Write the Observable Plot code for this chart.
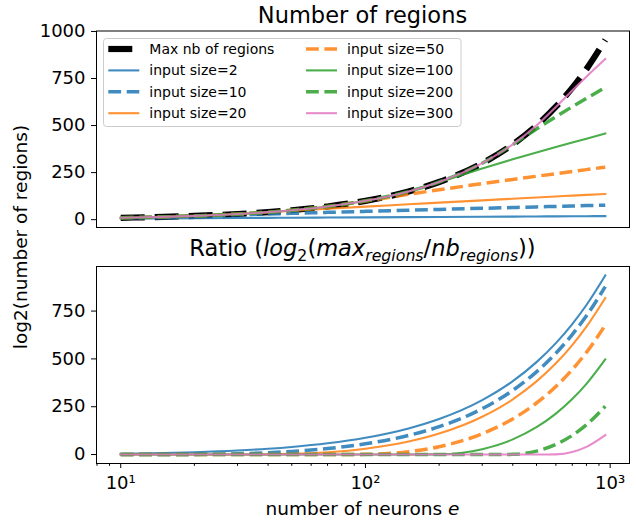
<!DOCTYPE html>
<html><head><meta charset="utf-8">
<script src="https://cdn.jsdelivr.net/npm/d3@7"></script>
<script src="https://cdn.jsdelivr.net/npm/@observablehq/plot@0.6"></script>
<style>
body{margin:0;background:#fff;}
#wrap{position:relative;width:637px;height:520px;font-family:"DejaVu Sans",sans-serif;}
#wrap svg{position:absolute;left:0;}
</style></head><body><div id="wrap"></div>
<script>
// ---- data ----
const neurons = [10, 15, 20, 30, 40, 50, 70, 100, 150, 200, 300, 400, 500, 600, 700, 800, 955];
const seriesLabels = ["Max nb of regions", "input size=2", "input size=10", "input size=20",
                      "input size=50", "input size=100", "input size=200", "input size=300"];
// top panel: log2(number of regions)
const regionsMax = [10, 15, 20, 30, 40, 50, 70, 100, 150, 200, 300, 400, 500, 600, 700, 800, 955];
const regions2   = [5.8, 6.9, 7.7, 8.9, 9.7, 10.3, 11.3, 12.3, 13.5, 14.3, 15.5, 16.3, 16.9, 17.5, 17.9, 18.3, 18.8];
const regions10  = [10, 14.9, 19.2, 25.7, 30.2, 33.6, 38.8, 44.1, 50.2, 54.4, 60.3, 64.5, 67.8, 70.4, 72.7, 74.6, 77.2];
const regions20  = [10, 15, 20, 30, 39.2, 46.7, 57.9, 69.3, 81.8, 90.6, 102.7, 111.2, 117.8, 123.1, 127.6, 131.5, 136.7];
const regions50  = [10, 15, 20, 30, 40, 50, 70, 99.1, 134.8, 158.9, 191.3, 213.6, 230.6, 244.3, 255.9, 265.8, 279.0];
const regions100 = [10, 15, 20, 30, 40, 50, 70, 100, 150, 199.1, 272.1, 320.7, 356.9, 385.8, 409.9, 430.5, 457.6];
const regions200 = [10, 15, 20, 30, 40, 50, 70, 100, 150, 200, 300, 399.1, 482.2, 547.1, 600.0, 644.7, 702.5];
const regions300 = [10, 15, 20, 30, 40, 50, 70, 100, 150, 200, 300, 400, 500, 599.1, 686.6, 759.7, 853.2];
// bottom panel: ratio log2(max / nb)
const ratio2   = [4.2, 8.1, 12.3, 21.1, 30.3, 39.7, 58.7, 87.7, 136.5, 185.7, 284.5, 383.7, 483.1, 582.5, 682.1, 781.7, 936.2];
const ratio10  = [0, 0.1, 0.8, 4.3, 9.8, 16.4, 31.2, 55.9, 99.8, 145.6, 239.7, 335.5, 432.2, 529.6, 627.4, 725.4, 877.9];
const ratio20  = [0, 0, 0, 0, 0.8, 3.3, 12.1, 30.7, 68.2, 109.4, 197.3, 288.8, 382.3, 476.9, 572.4, 668.5, 818.4];
const ratio50  = [0, 0, 0, 0, 0, 0, 0, 0.9, 15.2, 41.1, 108.7, 186.4, 269.4, 355.7, 444.1, 534.2, 676.0];
const ratio100 = [0, 0, 0, 0, 0, 0, 0, 0, 0, 0.9, 27.9, 79.4, 143.1, 214.2, 290.1, 369.5, 497.4];
const ratio200 = [0, 0, 0, 0, 0, 0, 0, 0, 0, 0, 0, 0.9, 17.8, 52.9, 100.0, 155.3, 252.5];
const ratio300 = [0, 0, 0, 0, 0, 0, 0, 0, 0, 0, 0, 0, 0, 1.0, 13.4, 40.3, 101.8];
// ticks
const yTicksTop = [0, 250, 500, 750, 1000];
const yTicksBottom = [0, 250, 500, 750];
const xTicks = [10, 100, 1000];
const xTickLabels = ["10¹", "10²", "10³"];
const xMinorTicks = [8, 9, 20, 30, 40, 50, 60, 70, 80, 90, 200, 300, 400, 500, 600, 700, 800, 900];

// ---- styles ----
const blue = "#1f77b4", orange = "#ff7f0e", green = "#2ca02c", pink = "#e377c2";
const solid = {w: 2.1, dash: null};
const dashed = {w: 3.5, dash: "12.8,5.6"};
const styles = [
  {color: "black", w: 6.2, dash: "24,10", op: 1},
  {color: blue, ...solid, op: 0.85},
  {color: blue, ...dashed, op: 0.85},
  {color: orange, ...solid, op: 0.85},
  {color: orange, ...dashed, op: 0.85},
  {color: green, ...solid, op: 0.85},
  {color: green, ...dashed, op: 0.85},
  {color: pink, ...solid, op: 0.85}
];
const topSeries = [regionsMax, regions2, regions10, regions20, regions50, regions100, regions200, regions300];
const bottomSeries = [null, ratio2, ratio10, ratio20, ratio50, ratio100, ratio200, ratio300];

const W = 637, L = 96, R = 629;
const lx = Math.log10(10), hx = Math.log10(955), s = hx - lx;
const xDomain = [Math.pow(10, lx - 0.05 * s), Math.pow(10, hx + 0.05 * s)];

function margins(series) {
  const all = series.filter(Boolean).flat();
  const lo = d3.min(all), hi = d3.max(all), m = 0.05 * (hi - lo);
  return [lo - m, hi + m];
}

function lineMarks(series) {
  const marks = [];
  series.forEach((vals, k) => {
    if (!vals) return;
    const st = styles[k];
    const rows = neurons.map((e, i) => ({e, v: vals[i]}));
    marks.push(Plot.line(rows, {
      x: "e", y: "v", stroke: st.color, strokeWidth: st.w, strokeOpacity: st.op,
      strokeDasharray: st.dash || undefined, strokeLinecap: st.dash ? "butt" : "square",
      curve: "monotone-x"
    }));
  });
  return marks;
}

const commonStyle = {fontFamily: "DejaVu Sans", fontSize: "18px", color: "black", background: "transparent", overflow: "visible"};

// top panel: plot area y 30.5..227
const H1 = 245;
const topChart = Plot.plot({
  width: W, height: H1, marginLeft: L, marginRight: W - R, marginTop: 30.5, marginBottom: H1 - 227,
  style: commonStyle,
  x: {type: "log", domain: xDomain, axis: null},
  y: {domain: margins(topSeries), axis: null},
  marks: [
    ...lineMarks(topSeries),
    Plot.axisY(yTicksTop, {tickSize: 5, tickPadding: 6, label: null, fontSize: 18, tickFormat: d => String(d)}),
    Plot.frame({stroke: "black", strokeWidth: 1})
  ]
});
topChart.style.top = "0px";

// bottom panel: plot area y 266..463 (page)
const H2 = 275, off2 = 245;
const bottomChart = Plot.plot({
  width: W, height: H2, marginLeft: L, marginRight: W - R, marginTop: 266 - off2, marginBottom: H2 - (463 - off2),
  style: commonStyle,
  x: {type: "log", domain: xDomain, axis: null},
  y: {domain: margins(bottomSeries), axis: null},
  marks: [
    ...lineMarks(bottomSeries),
    Plot.axisY(yTicksBottom, {tickSize: 5, tickPadding: 6, label: null, fontSize: 18, tickFormat: d => String(d)}),
    Plot.axisX(xMinorTicks, {tickSize: 2.8, tickFormat: () => "", label: null}),
    Plot.axisX(xTicks, {tickSize: 5, tickPadding: 8, label: null, fontSize: 18,
      tickFormat: d => xTickLabels[xTicks.indexOf(d)]}),
    Plot.frame({stroke: "black", strokeWidth: 1})
  ]
});
bottomChart.style.top = off2 + "px";

const wrap = document.getElementById("wrap");
wrap.appendChild(topChart);
wrap.appendChild(bottomChart);

// overlay for titles, labels and legend
const ov = d3.select(wrap).append("svg")
  .attr("width", W).attr("height", 520)
  .style("top", "0px").style("pointer-events", "none")
  .attr("font-family", "DejaVu Sans");
const cx = (L + R) / 2;

ov.append("text").attr("x", cx).attr("y", 23).attr("text-anchor", "middle")
  .attr("font-size", 22.5).text("Number of regions");

// bottom title with math styling
const titleParts = [
  ["Ratio (", "n"], ["log", "i"], ["2", "sub"], ["(", "n"], ["max", "i"], ["regions", "isub"],
  ["/", "n"], ["nb", "i"], ["regions", "isub"], ["))", "n"]
];
const bt = ov.append("text").attr("x", cx).attr("y", 256).attr("text-anchor", "middle").attr("font-size", 22.5);
let shift = 0;
titleParts.forEach(([txt, kind]) => {
  const sub = kind.includes("sub");
  const want = sub ? 5 : 0;
  const ts = bt.append("tspan").text(txt).attr("dy", want - shift);
  shift = want;
  if (kind.includes("i")) ts.attr("font-style", "italic");
  if (sub) ts.attr("font-size", 15.75);
});

const xl = ov.append("text").attr("x", cx).attr("y", 515).attr("text-anchor", "middle").attr("font-size", 18.5);
xl.append("tspan").text("number of neurons ");
xl.append("tspan").attr("font-style", "italic").text("e");

ov.append("text").attr("transform", "translate(27,237) rotate(-90)").attr("text-anchor", "middle")
  .attr("font-size", 18.5).text("log2(number of regions)");

// legend
const lg = ov.append("g");
lg.append("rect").attr("x", 103.5).attr("y", 38.5).attr("width", 357.5).attr("height", 88)
  .attr("rx", 3).attr("fill", "white").attr("fill-opacity", 0.8).attr("stroke", "#cccccc");
const rowY = [49, 70.4, 91.8, 113.2];
const colX = [108.3, 306];
seriesLabels.forEach((lab, k) => {
  const c = Math.floor(k / 4), r = k % 4;
  const st = styles[k];
  const y = rowY[r], x0 = colX[c];
  const ln = lg.append("line").attr("x1", x0).attr("x2", x0 + 31).attr("y1", y).attr("y2", y)
    .attr("stroke", st.color).attr("stroke-width", st.w).attr("stroke-opacity", st.op);
  if (st.dash) ln.attr("stroke-dasharray", st.dash);
  lg.append("text").attr("x", x0 + 41).attr("y", y).attr("dy", "0.35em").attr("font-size", 14).text(lab);
});
</script></body></html>
